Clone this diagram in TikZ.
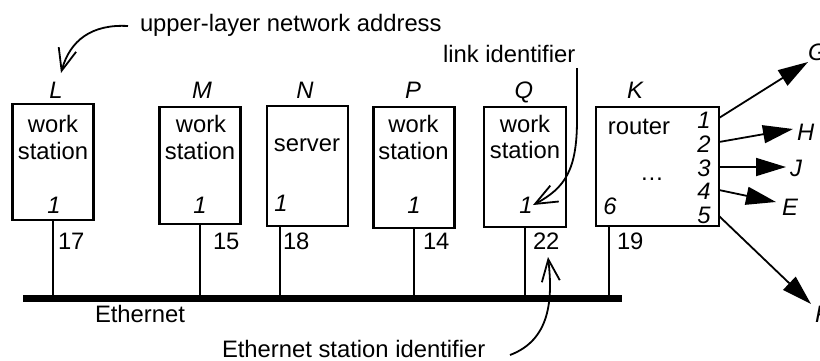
\documentclass[tikz,border=0pt]{standalone}
\usepackage{fontspec}
\setmainfont{Liberation Sans}
\usetikzlibrary{arrows.meta,calc}
\begin{document}
\begin{tikzpicture}[x=0.5pt,y=-0.5pt,
  every node/.style={font=\fontsize{11.9}{14}\selectfont, inner sep=0pt, outer sep=0pt},
  box/.style={draw, line width=1.1pt, minimum width=40.5pt},
  lbl/.style={anchor=base},
  lblw/.style={anchor=base west},
  it/.style={font=\fontsize{11.9}{14}\selectfont\itshape},
  wire/.style={line width=1pt},
  bus/.style={line width=3.5pt},
  portarrow/.style={line width=0.9pt, -{Triangle[length=15pt,width=9pt]}},
  note/.style={line width=0.9pt, -{Straight Barb[length=11pt,width=9pt]}}]
\useasboundingbox (0,0) rectangle (820,360);

% boxes
\node[box, minimum height=58pt] (L) at (53,162) {};
\node[box, minimum height=58.5pt] (M) at (200,165.5) {};
\node[box, minimum height=60pt] (N) at (307.5,166) {};
\node[box, minimum height=60.5pt] (P) at (414,167.5) {};
\node[box, minimum height=60pt, minimum width=41pt] (Q) at (525,167) {};
\node[box, minimum height=59.5pt, minimum width=61.5pt] (K) at (657.5,166.5) {};

% station names
\node[it, lbl] (nL) at (56,98) {L};
\node[it, lbl] (nM) at (202,98) {M};
\node[it, lbl] (nN) at (305,98) {N};
\node[it, lbl] (nP) at (413,98) {P};
\node[it, lbl] (nQ) at (524,98) {Q};
\node[it, lbl] (nK) at (635,98) {K};

% box texts
\node[lbl] (wL1) at (53,132) {work};
\node[lbl] (wL2) at (53,159) {station};
\node[lbl] (wM1) at (201,132) {work};
\node[lbl] (wM2) at (200,159) {station};
\node[lbl] (sN) at (307,151) {server};
\node[lbl] (wP1) at (413.5,132) {work};
\node[lbl] (wP2) at (413.5,159) {station};
\node[lbl] (wQ1) at (525,132) {work};
\node[lbl] (wQ2) at (525,158) {station};
\node[lbl] (rK) at (639,134) {router};
\node[lbl] (dK) at (652,180) {…};

% link identifiers inside boxes
\node[it, lbl] (iL) at (54,213) {1};
\node[it, lbl] (iM) at (200,213) {1};
\node[it, lbl] (iN) at (281,211) {1};
\node[it, lbl] (iP) at (414,213) {1};
\node[it, lbl] (iQ) at (526,213) {1};
\node[it, lbl] (iK6) at (610,214) {6};
\node[it, lbl] (k1) at (704,128) {1};
\node[it, lbl] (k2) at (704,152) {2};
\node[it, lbl] (k3) at (704,176) {3};
\node[it, lbl] (k4) at (704,199) {4};
\node[it, lbl] (k5) at (704,223) {5};

% Ethernet bus
\coordinate (e1) at (23,298);
\coordinate (e2) at (622,298);
\coordinate (dN) at ([xshift=6.25pt]N.south west);
\coordinate (dK) at ([xshift=6.25pt]K.south west);
\draw[wire] (L.south) -- (L.south |- e1);
\draw[wire] (M.south) -- (M.south |- e1);
\draw[wire] (dN) -- (dN |- e1);
\draw[wire] (P.south) -- (P.south |- e1);
\draw[wire] (Q.south) -- (Q.south |- e1);
\draw[wire] (dK) -- (dK |- e1);
\draw[bus] (e1) -- (e2);

% station identifiers
\node[lblw] (s17) at (58,249) {17};
\node[lblw] (s15) at (213,249) {15};
\node[lblw] (s18) at (283,249) {18};
\node[lblw] (s14) at (423,249) {14};
\node[lblw] (s22) at (533,249) {22};
\node[lblw] (s19) at (617,249) {19};
\node[lblw] (eth) at (95,322) {Ethernet};

% router ports
\coordinate (p1) at (K.east |- 0,118);
\coordinate (p2) at (K.east |- 0,142);
\coordinate (p3) at (K.east |- 0,167);
\coordinate (p4) at (K.east |- 0,190);
\coordinate (p5) at (K.east |- 0,216);
\coordinate (t1) at (808,62);
\coordinate (t2) at (793,129);
\coordinate (t3) at (786,167);
\coordinate (t4) at (776,202);
\coordinate (t5) at (811,304);
\draw[portarrow] (p1) -- (t1);
\draw[portarrow] (p2) -- (t2);
\draw[portarrow] (p3) -- (t3);
\draw[portarrow] (p4) -- (t4);
\draw[portarrow] (p5) -- (t5);
\node[it, lblw] (G) at (808,60) {G};
\node[it, lblw] (H) at (797,140) {H};
\node[it, lblw] (J) at (790,176) {J};
\node[it, lblw] (E) at (782,215) {E};
\node[it, lblw] (F) at (815,322) {F};

% annotations
\node[lblw] (a1) at (140,31) {upper-layer network address};
\node[lblw] (a2) at (443,62) {link identifier};
\node[lblw] (a3) at (222,357) {Ethernet station identifier};
\coordinate (a1s) at (128,26);
\coordinate (a1t) at (61,73);
\coordinate (a2s) at (577,68);
\coordinate (a2m) at (577,120);
\coordinate (a2t) at (533,205);
\coordinate (a3s) at (510,355);
\coordinate (a3t) at (548,257);
\draw[note] (a1s) .. controls (92,24) and (70,40) .. (a1t);
\draw[note] (a2s) -- (a2m) .. controls (577,170) and (565,188) .. (a2t);
\draw[note] (a3s) .. controls (550,340) and (553,300) .. (a3t);
\end{tikzpicture}
\end{document}
